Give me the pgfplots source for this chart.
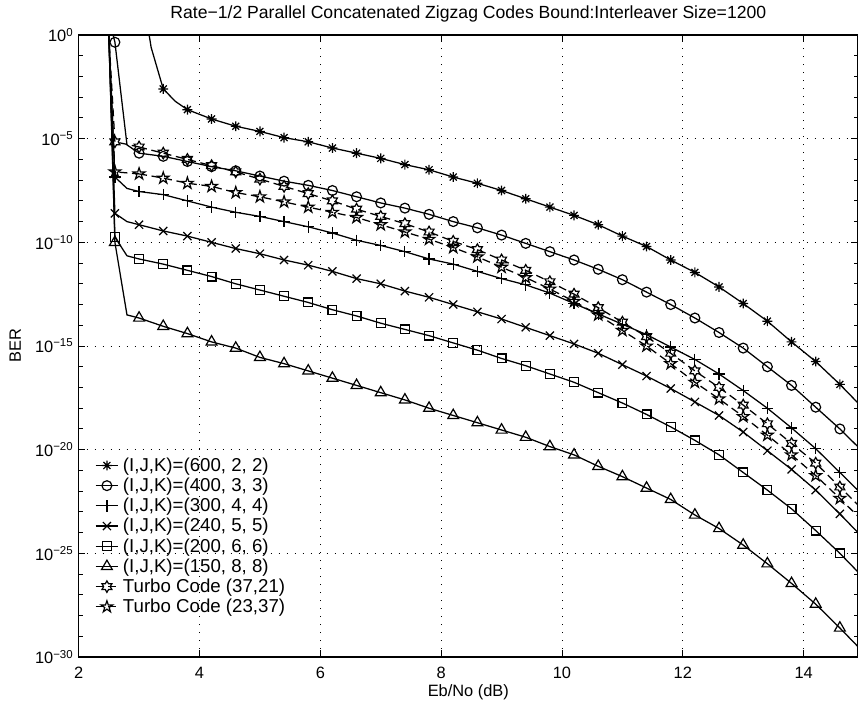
\documentclass[border=0pt]{standalone}
\usepackage{fontspec}
\setmainfont{Liberation Sans}
\usepackage{pgfplots}
\pgfplotsset{compat=1.18}
\usetikzlibrary{plotmarks}

% MATLAB-like markers
\pgfdeclareplotmark{mast}{%
  \pgfpathmoveto{\pgfqpoint{-\pgfplotmarksize}{0pt}}%
  \pgfpathlineto{\pgfqpoint{\pgfplotmarksize}{0pt}}%
  \pgfpathmoveto{\pgfqpoint{0pt}{-\pgfplotmarksize}}%
  \pgfpathlineto{\pgfqpoint{0pt}{\pgfplotmarksize}}%
  \pgfpathmoveto{\pgfqpoint{-.7071\pgfplotmarksize}{-.7071\pgfplotmarksize}}%
  \pgfpathlineto{\pgfqpoint{.7071\pgfplotmarksize}{.7071\pgfplotmarksize}}%
  \pgfpathmoveto{\pgfqpoint{-.7071\pgfplotmarksize}{.7071\pgfplotmarksize}}%
  \pgfpathlineto{\pgfqpoint{.7071\pgfplotmarksize}{-.7071\pgfplotmarksize}}%
  \pgfusepathqstroke}
\pgfdeclareplotmark{hexa}{%
  \pgfpathmoveto{\pgfpointpolar{90}{\pgfplotmarksize}}%
  \pgfpathlineto{\pgfpointpolar{120}{0.577*\pgfplotmarksize}}%
  \pgfpathlineto{\pgfpointpolar{150}{\pgfplotmarksize}}%
  \pgfpathlineto{\pgfpointpolar{180}{0.577*\pgfplotmarksize}}%
  \pgfpathlineto{\pgfpointpolar{210}{\pgfplotmarksize}}%
  \pgfpathlineto{\pgfpointpolar{240}{0.577*\pgfplotmarksize}}%
  \pgfpathlineto{\pgfpointpolar{270}{\pgfplotmarksize}}%
  \pgfpathlineto{\pgfpointpolar{300}{0.577*\pgfplotmarksize}}%
  \pgfpathlineto{\pgfpointpolar{330}{\pgfplotmarksize}}%
  \pgfpathlineto{\pgfpointpolar{0}{0.577*\pgfplotmarksize}}%
  \pgfpathlineto{\pgfpointpolar{30}{\pgfplotmarksize}}%
  \pgfpathlineto{\pgfpointpolar{60}{0.577*\pgfplotmarksize}}%
  \pgfpathclose
  \pgfusepathqstroke}
\pgfdeclareplotmark{penta}{%
  \pgfpathmoveto{\pgfpointpolar{90}{\pgfplotmarksize}}%
  \pgfpathlineto{\pgfpointpolar{126}{0.382*\pgfplotmarksize}}%
  \pgfpathlineto{\pgfpointpolar{162}{\pgfplotmarksize}}%
  \pgfpathlineto{\pgfpointpolar{198}{0.382*\pgfplotmarksize}}%
  \pgfpathlineto{\pgfpointpolar{234}{\pgfplotmarksize}}%
  \pgfpathlineto{\pgfpointpolar{270}{0.382*\pgfplotmarksize}}%
  \pgfpathlineto{\pgfpointpolar{306}{\pgfplotmarksize}}%
  \pgfpathlineto{\pgfpointpolar{342}{0.382*\pgfplotmarksize}}%
  \pgfpathlineto{\pgfpointpolar{18}{\pgfplotmarksize}}%
  \pgfpathlineto{\pgfpointpolar{54}{0.382*\pgfplotmarksize}}%
  \pgfpathclose
  \pgfusepathqstroke}

\pgfplotsset{
  base/.style={black, line width=0.95pt, mark options={solid, line width=0.9pt}},
  sA/.style={base, mark=mast, mark size=3.7pt},
  sB/.style={base, mark=o, mark size=3.7pt},
  sC/.style={base, mark=+, mark size=4.3pt},
  sD/.style={base, mark=x, mark size=4.3pt},
  sE/.style={base, mark=square, mark size=3.3pt},
  sF/.style={base, mark=triangle, mark size=4.7pt},
  sG/.style={base, dash pattern=on 6pt off 3.5pt, mark=hexa, mark size=4.3pt},
  sH/.style={base, dash pattern=on 6pt off 3.5pt, mark=penta, mark size=4.6pt},
}

\begin{document}
\begin{tikzpicture}
\useasboundingbox (-59pt,-35.25pt) rectangle (584.5pt,492.75pt);
\begin{axis}[
  at={(0pt,0pt)}, anchor=south west, scale only axis,
  width=584.5pt, height=466.5pt,
  xmin=2, xmax=14.9, ymode=log, ymin=1e-30, ymax=1,
  xtick={2,4,6,8,10,12,14},
  ytick={1e-30,1e-25,1e-20,1e-15,1e-10,1e-5,1},
  yticklabels={10\textsuperscript{−30},10\textsuperscript{−25},10\textsuperscript{−20},10\textsuperscript{−15},10\textsuperscript{−10},10\textsuperscript{−5},10\textsuperscript{0}},
  minor ytick={1e-29,1e-28,1e-27,1e-26,1e-24,1e-23,1e-22,1e-21,1e-19,1e-18,1e-17,1e-16,1e-14,1e-13,1e-12,1e-11,1e-9,1e-8,1e-7,1e-6,1e-4,1e-3,1e-2,1e-1},
  tick align=inside,
  major tick length=5pt, minor tick length=3pt,
  every tick/.style={black, line width=0.7pt},
  axis line style={line width=0.9pt},
  grid=major,
  major grid style={black, line width=0.65pt, dash pattern=on 0.65pt off 5.35pt},
  /pgf/number format/assume math mode=true,
  tick label style={font=\fontsize{12.3}{14}\selectfont},
  xticklabel style={anchor=base, yshift=-15.75pt},
  yticklabel style={anchor=east, xshift=-3.75pt, inner xsep=0pt},
  title={Rate−1/2 Parallel Concatenated Zigzag Codes Bound:Interleaver Size=1200},
  title style={at={(axis description cs:0.5,1)}, anchor=base, yshift=6.4pt, font=\fontsize{13.2}{15}\selectfont},
  xlabel={Eb/No (dB)},
  xlabel style={at={(axis description cs:0.5,0)}, anchor=base, yshift=-29.25pt, font=\fontsize{12.3}{14}\selectfont},
  ylabel={BER},
  ylabel style={at={(axis description cs:-0.074,0.5)}, anchor=base, font=\fontsize{12.3}{14}\selectfont},
  legend style={at={(axis description cs:0.0205,0.323)}, anchor=north west, draw=none, fill=none,
    inner xsep=0pt, inner ysep=0pt, row sep=1.5pt, font=\fontsize{14}{16}\selectfont,
    nodes={inner ysep=1pt, inner xsep=3pt}},
  legend cell align=left,
]
% (I,J,K)=(600,2,2)
\addplot[sA, forget plot, mark indices={2}] coordinates {(3.0,1e3)(3.2,2.51e-1)(3.4,2.51e-3)(3.6,6.31e-4)(3.8,2.51e-4)};
\addplot[sA] coordinates {(3.8,2.51e-4)(4.2,8.91e-5)(4.6,3.98e-5)(5.0,2.24e-5)(5.4,1.12e-5)(5.8,7.08e-6)(6.2,3.55e-6)(6.6,2.00e-6)(7.0,1.12e-6)(7.4,5.62e-7)(7.8,3.16e-7)(8.2,1.41e-7)(8.6,7.08e-8)(9.0,3.16e-8)(9.4,1.26e-8)(9.8,5.01e-9)(10.2,2.00e-9)(10.6,7.08e-10)(11.0,2.00e-10)(11.4,6.31e-11)(11.8,1.41e-11)(12.2,3.55e-12)(12.6,7.08e-13)(13.0,1.12e-13)(13.4,1.58e-14)(13.8,1.58e-15)(14.2,1.78e-16)(14.6,1.41e-17)(15.0,8.91e-19)};
\addlegendentry{(I,J,K)=(600, 2, 2)}
% (400,3,3)
\addplot[sB, forget plot, mark indices={1}] coordinates {(2.4,1e2)(2.6,4.47e-1)(2.8,5.01e-6)(3.0,2.00e-6)};
\addplot[sB] coordinates {(3.0,2.00e-6)(3.4,1.41e-6)(3.8,7.94e-7)(4.2,4.47e-7)(4.6,2.82e-7)(5.0,1.58e-7)(5.4,8.91e-8)(5.8,5.62e-8)(6.2,3.16e-8)(6.6,1.58e-8)(7.0,7.94e-9)(7.4,4.47e-9)(7.8,2.24e-9)(8.2,1.00e-9)(8.6,5.01e-10)(9.0,2.24e-10)(9.4,8.91e-11)(9.8,3.55e-11)(10.2,1.41e-11)(10.6,5.01e-12)(11.0,1.58e-12)(11.4,3.98e-13)(11.8,1.00e-13)(12.2,2.24e-14)(12.6,4.47e-15)(13.0,7.94e-16)(13.4,1.00e-16)(13.8,1.26e-17)(14.2,1.12e-18)(14.6,1.00e-19)(15.0,7.08e-21)};
\addlegendentry{(I,J,K)=(400, 3, 3)}
% (300,4,4)
\addplot[sC, forget plot, mark indices={1}] coordinates {(2.4,1e7)(2.6,1.41e-7)(2.8,3.98e-8)(3.0,2.82e-8)};
\addplot[sC] coordinates {(3.0,2.82e-8)(3.4,2.00e-8)(3.8,1.00e-8)(4.2,5.01e-9)(4.6,2.82e-9)(5.0,1.78e-9)(5.4,1.00e-9)(5.8,5.62e-10)(6.2,2.82e-10)(6.6,1.26e-10)(7.0,7.08e-11)(7.4,3.55e-11)(7.8,1.58e-11)(8.2,8.91e-12)(8.6,3.98e-12)(9.0,1.78e-12)(9.4,8.91e-13)(9.8,3.55e-13)(10.2,1.12e-13)(10.6,3.55e-14)(11.0,1.12e-14)(11.4,3.55e-15)(11.8,8.91e-16)(12.2,2.24e-16)(12.6,4.47e-17)(13.0,7.08e-18)(13.4,1.00e-18)(13.8,1.12e-19)(14.2,1.12e-20)(14.6,7.94e-22)(15.0,5.62e-23)};
\addlegendentry{(I,J,K)=(300, 4, 4)}
% (240,5,5)
\addplot[sD, forget plot, mark indices={1}] coordinates {(2.4,1e8)(2.6,2.51e-9)(2.8,1.00e-9)(3.0,7.08e-10)};
\addplot[sD] coordinates {(3.0,7.08e-10)(3.4,3.55e-10)(3.8,2.00e-10)(4.2,1.00e-10)(4.6,5.01e-11)(5.0,2.82e-11)(5.4,1.41e-11)(5.8,7.94e-12)(6.2,3.98e-12)(6.6,1.78e-12)(7.0,1.00e-12)(7.4,4.47e-13)(7.8,2.24e-13)(8.2,1.00e-13)(8.6,4.47e-14)(9.0,2.00e-14)(9.4,7.94e-15)(9.8,3.16e-15)(10.2,1.26e-15)(10.6,4.47e-16)(11.0,1.26e-16)(11.4,3.55e-17)(11.8,8.91e-18)(12.2,2.00e-18)(12.6,4.47e-19)(13.0,7.08e-20)(13.4,8.91e-21)(13.8,1.12e-21)(14.2,1.12e-22)(14.6,7.94e-24)(15.0,5.01e-25)};
\addlegendentry{(I,J,K)=(240, 5, 5)}
% (200,6,6)
\addplot[sE, forget plot, mark indices={1}] coordinates {(2.4,1e10)(2.6,1.78e-10)(2.8,2.24e-11)(3.0,1.58e-11)};
\addplot[sE] coordinates {(3.0,1.58e-11)(3.4,8.91e-12)(3.8,4.47e-12)(4.2,2.24e-12)(4.6,1.00e-12)(5.0,5.01e-13)(5.4,2.51e-13)(5.8,1.26e-13)(6.2,5.62e-14)(6.6,2.82e-14)(7.0,1.26e-14)(7.4,6.31e-15)(7.8,3.16e-15)(8.2,1.41e-15)(8.6,6.31e-16)(9.0,2.51e-16)(9.4,1.12e-16)(9.8,4.47e-17)(10.2,1.78e-17)(10.6,5.62e-18)(11.0,1.78e-18)(11.4,5.01e-19)(11.8,1.26e-19)(12.2,2.82e-20)(12.6,5.62e-21)(13.0,7.94e-22)(13.4,1.12e-22)(13.8,1.41e-23)(14.2,1.26e-24)(14.6,1.00e-25)(15.0,6.31e-27)};
\addlegendentry{(I,J,K)=(200, 6, 6)}
% (150,8,8)
\addplot[sF, forget plot, mark indices={1}] coordinates {(2.4,1e10)(2.6,1.00e-10)(2.8,3.16e-14)(3.0,2.24e-14)};
\addplot[sF] coordinates {(3.0,2.24e-14)(3.4,8.91e-15)(3.8,3.98e-15)(4.2,1.58e-15)(4.6,7.94e-16)(5.0,2.82e-16)(5.4,1.41e-16)(5.8,6.31e-17)(6.2,2.82e-17)(6.6,1.26e-17)(7.0,5.62e-18)(7.4,2.51e-18)(7.8,1.00e-18)(8.2,4.47e-19)(8.6,2.00e-19)(9.0,8.91e-20)(9.4,3.98e-20)(9.8,1.41e-20)(10.2,5.62e-21)(10.6,1.58e-21)(11.0,5.01e-22)(11.4,1.41e-22)(11.8,3.98e-23)(12.2,7.08e-24)(12.6,1.58e-24)(13.0,2.51e-25)(13.4,3.16e-26)(13.8,3.55e-27)(14.2,3.55e-28)(14.6,2.51e-29)(15.0,1.58e-30)};
\addlegendentry{(I,J,K)=(150, 8, 8)}
% Turbo (37,21)
\addplot[sG, forget plot, mark indices={1}] coordinates {(2.4,1e5)(2.6,7.08e-6)(3.0,3.98e-6)};
\addplot[sG] coordinates {(3.0,3.98e-6)(3.4,2.00e-6)(3.8,1.00e-6)(4.2,5.01e-7)(4.6,2.51e-7)(5.0,1.12e-7)(5.4,5.01e-8)(5.8,2.24e-8)(6.2,1.00e-8)(6.6,3.98e-9)(7.0,1.78e-9)(7.4,7.94e-10)(7.8,3.16e-10)(8.2,1.12e-10)(8.6,4.47e-11)(9.0,1.41e-11)(9.4,4.47e-12)(9.8,1.26e-12)(10.2,3.16e-13)(10.6,7.08e-14)(11.0,1.41e-14)(11.4,2.82e-15)(11.8,4.47e-16)(12.2,6.31e-17)(12.6,1.00e-17)(13.0,1.41e-18)(13.4,1.78e-19)(13.8,2.00e-20)(14.2,2.24e-21)(14.6,1.58e-22)(15.0,1.12e-23)};
\addlegendentry{Turbo Code (37,21)}
% Turbo (23,37)
\addplot[sH, forget plot, mark indices={1}] coordinates {(2.4,1e6)(2.6,2.51e-7)(3.0,2.00e-7)};
\addplot[sH] coordinates {(3.0,2.00e-7)(3.4,1.26e-7)(3.8,7.08e-8)(4.2,5.01e-8)(4.6,2.51e-8)(5.0,1.58e-8)(5.4,8.91e-9)(5.8,5.01e-9)(6.2,2.82e-9)(6.6,1.58e-9)(7.0,7.08e-10)(7.4,3.16e-10)(7.8,1.41e-10)(8.2,5.62e-11)(8.6,2.00e-11)(9.0,6.31e-12)(9.4,2.00e-12)(9.8,5.62e-13)(10.2,1.41e-13)(10.6,3.16e-14)(11.0,5.62e-15)(11.4,1.00e-15)(11.8,1.41e-16)(12.2,1.78e-17)(12.6,2.82e-18)(13.0,3.98e-19)(13.4,5.01e-20)(13.8,5.62e-21)(14.2,5.62e-22)(14.6,4.47e-23)(15.0,3.16e-24)};
\addlegendentry{Turbo Code (23,37)}
\end{axis}
\end{tikzpicture}
\end{document}
